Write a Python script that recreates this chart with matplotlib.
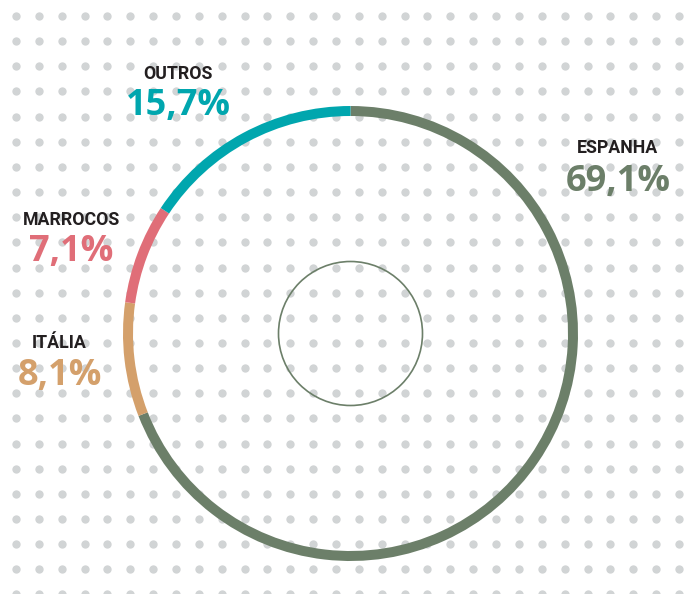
import numpy as np
import matplotlib
matplotlib.use("Agg")
import matplotlib.pyplot as plt
from matplotlib.patches import Circle

# ---- data ----
categories = ["ESPANHA", "ITÁLIA", "MARROCOS", "OUTROS"]
values = [69.1, 8.1, 7.1, 15.7]
value_labels = ["69,1%", "8,1%", "7,1%", "15,7%"]
colors = ["#6c7f69", "#d4a06b", "#e06e78", "#00a6ae"]

W, H = 693, 594
fig = plt.figure(figsize=(W / 100, H / 100), dpi=100)
ax = fig.add_axes([0, 0, 1, 1])

# dotted background
xs = 16 + 22.86 * np.arange(30)
ys = 16 + 25.15 * np.arange(24)
gx, gy = np.meshgrid(xs, ys)
ax.scatter(gx.ravel(), H - gy.ravel(), s=36, color="#d1d4d5", linewidths=0, zorder=1)

# ring
cx, cy = 350.5, H - 333.5
ax.pie(values, colors=colors, startangle=90, counterclock=False, radius=227.5,
       center=(cx, cy), wedgeprops=dict(width=10, edgecolor="none", linewidth=0),
       frame=True)
for w in ax.patches:
    w.set_zorder(3)

# inner circle
ax.add_patch(Circle((cx, cy), 72, fill=False, lw=1.2, edgecolor=colors[0], zorder=3))

# labels: (label center x, name baseline y, value baseline y) in pixels from top
label_pos = {
    "ESPANHA": (618, 153, 191.5),
    "ITÁLIA": (59.5, 348, 385),
    "MARROCOS": (71, 225, 261.5),
    "OUTROS": (178, 79, 115),
}
for cat, val, col in zip(categories, value_labels, colors):
    x, yn, yv = label_pos[cat]
    ax.text(x, H - yn, cat, ha="center", va="baseline", fontsize=12.8,
            fontweight="bold", family=["Roboto", "DejaVu Sans"], color="#231f20", zorder=5)
    ax.text(x, H - yv, val, ha="center", va="baseline", fontsize=26,
            fontweight="bold", family=["Open Sans", "DejaVu Sans"], color=col, zorder=5)

ax.set_xlim(0, W)
ax.set_ylim(0, H)
ax.set_aspect("equal")
ax.axis("off")
fig.savefig("out.png", dpi=100, facecolor="white")
